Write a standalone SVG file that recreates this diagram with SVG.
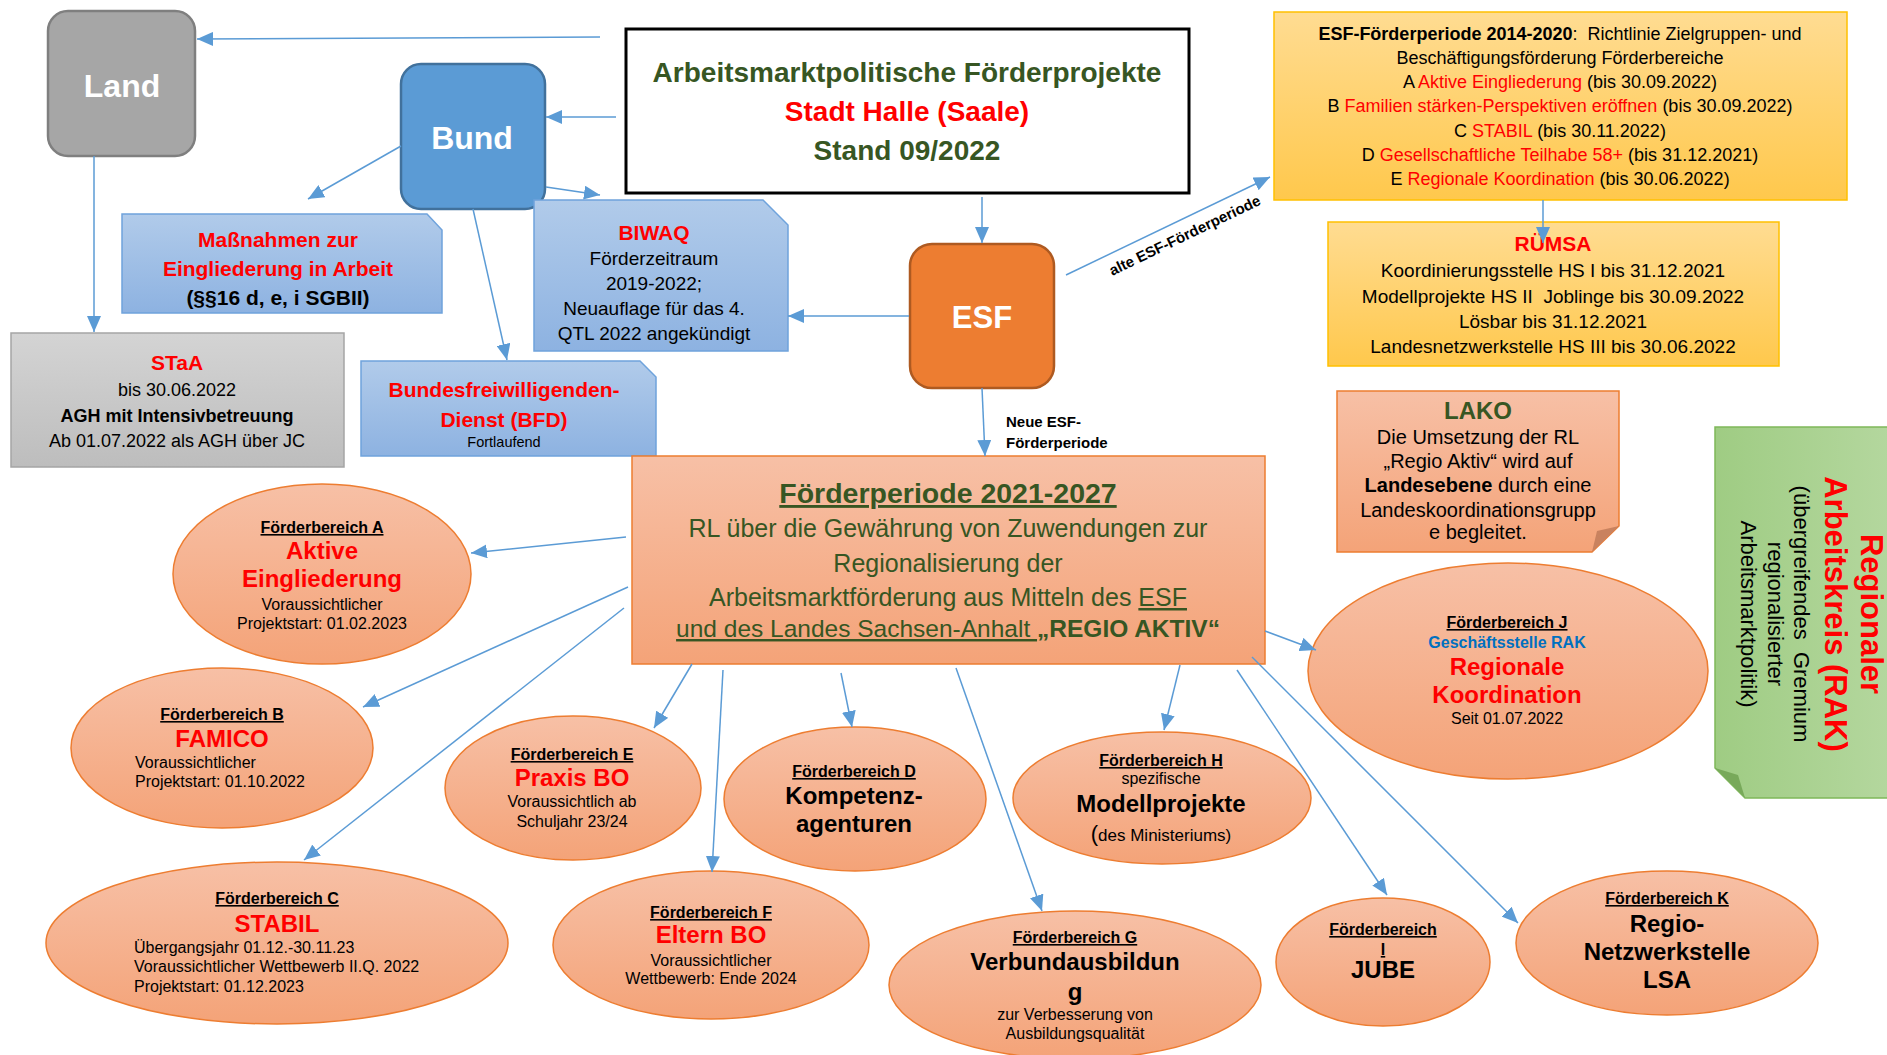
<svg xmlns="http://www.w3.org/2000/svg" width="1887" height="1055" viewBox="0 0 1887 1055">
<defs>
<style>
text{font-family:"Liberation Sans",Arial,sans-serif;fill:#000}
.c{text-anchor:middle}
.b{font-weight:bold}
.u{text-decoration:underline}
.red{fill:#ff0000}
.grn{fill:#375623}
.wh{fill:#ffffff}
.ell{fill:url(#gS);stroke:#ed7d31;stroke-width:1.5}
.blue{fill:url(#gB);stroke:#6fa3dc;stroke-width:1.5}
.f16{font-size:16px}
.f24{font-size:24px}
#conn path{fill:none;stroke:#5b9bd5;stroke-width:1.5;marker-end:url(#ah)}
</style>
<linearGradient id="gS" x1="0" y1="0" x2="0" y2="1"><stop offset="0" stop-color="#f7c0a6"/><stop offset="1" stop-color="#f4a378"/></linearGradient>
<linearGradient id="gB" x1="0" y1="0" x2="0" y2="1"><stop offset="0" stop-color="#b1cbea"/><stop offset="1" stop-color="#8db2e1"/></linearGradient>
<linearGradient id="gG" x1="0" y1="0" x2="0" y2="1"><stop offset="0" stop-color="#d4d4d4"/><stop offset="1" stop-color="#bdbdbd"/></linearGradient>
<linearGradient id="gY" x1="0" y1="0" x2="0" y2="1"><stop offset="0" stop-color="#ffdc92"/><stop offset="1" stop-color="#ffc84c"/></linearGradient>
<linearGradient id="gGr" x1="1" y1="0" x2="0" y2="0"><stop offset="0" stop-color="#b4d79e"/><stop offset="1" stop-color="#9fcc83"/></linearGradient>
<marker id="ah" markerUnits="userSpaceOnUse" markerWidth="16" markerHeight="14" refX="16" refY="7" orient="auto"><path d="M0,0 L16,7 L0,14 Z" fill="#5b9bd5"/></marker>
</defs>
<rect width="1887" height="1055" fill="#ffffff"/>

<g id="land">
<rect x="48" y="11" width="147" height="145" rx="20" fill="#a6a6a6" stroke="#7f7f7f" stroke-width="2.5"/>
<text x="122" y="97" class="c b wh" font-size="32">Land</text>
</g>
<g id="bund">
<rect x="401" y="64" width="144" height="145" rx="20" fill="#5b9bd5" stroke="#41719c" stroke-width="2.5"/>
<text x="472" y="149" class="c b wh" font-size="32">Bund</text>
</g>
<g id="title">
<rect x="626" y="29" width="563" height="164" fill="#ffffff" stroke="#000" stroke-width="3"/>
<text x="907" y="82" class="c b grn" font-size="28">Arbeitsmarktpolitische Förderprojekte</text>
<text x="907" y="121" class="c b red" font-size="28">Stadt Halle (Saale)</text>
<text x="907" y="160" class="c b grn" font-size="28">Stand 09/2022</text>
</g>
<g id="massnahmen">
<path class="blue" d="M122,214 H427 L442,230 V313 H122 Z"/>
<text x="278" y="247" class="c b red" font-size="21">Maßnahmen zur</text>
<text x="278" y="276" class="c b red" font-size="21">Eingliederung in Arbeit</text>
<text x="278" y="305" class="c b" font-size="21">(§§16 d, e, i SGBII)</text>
</g>
<g id="biwaq">
<path class="blue" d="M534,200 H763 L788,225 V351 H534 Z"/>
<text x="654" y="240" class="c b red" font-size="21">BIWAQ</text>
<text x="654" y="265" class="c" font-size="19">Förderzeitraum</text>
<text x="654" y="290" class="c" font-size="19">2019-2022;</text>
<text x="654" y="315" class="c" font-size="19">Neuauflage für das 4.</text>
<text x="654" y="340" class="c" font-size="19">QTL 2022 angekündigt</text>
</g>
<g id="staa">
<rect x="11" y="333" width="333" height="134" fill="url(#gG)" stroke="#a5a5a5" stroke-width="1.5"/>
<text x="177" y="370" class="c b red" font-size="21">STaA</text>
<text x="177" y="396" class="c" font-size="18">bis 30.06.2022</text>
<text x="177" y="422" class="c b" font-size="18">AGH mit Intensivbetreuung</text>
<text x="177" y="447" class="c" font-size="18">Ab 01.07.2022 als AGH über JC</text>
</g>
<g id="bfd">
<path class="blue" d="M361,361 H640 L656,377 V456 H361 Z"/>
<text x="504" y="397" class="c b red" font-size="21">Bundesfreiwilligenden-</text>
<text x="504" y="427" class="c b red" font-size="21">Dienst (BFD)</text>
<text x="504" y="447" class="c" font-size="14.5">Fortlaufend</text>
</g>
<g id="esf">
<rect x="910" y="244" width="144" height="144" rx="22" fill="#ed7d31" stroke="#ae5a21" stroke-width="2.5"/>
<text x="982" y="328" class="c b wh" font-size="31">ESF</text>
</g>
<g id="esf2014">
<rect x="1274" y="12" width="573" height="188" fill="url(#gY)" stroke="#ffc000" stroke-width="1.5"/>
<text x="1560" y="40" class="c" font-size="18" xml:space="preserve"><tspan class="b">ESF-Förderperiode 2014-2020</tspan>:  Richtlinie Zielgruppen- und</text>
<text x="1560" y="64" class="c" font-size="18">Beschäftigungsförderung Förderbereiche</text>
<text x="1560" y="88" class="c" font-size="18">A <tspan class="red">Aktive Eingliederung</tspan> (bis 30.09.2022)</text>
<text x="1560" y="112" class="c" font-size="18">B <tspan class="red">Familien stärken-Perspektiven eröffnen</tspan> (bis 30.09.2022)</text>
<text x="1560" y="137" class="c" font-size="18">C <tspan class="red">STABIL</tspan> (bis 30.11.2022)</text>
<text x="1560" y="161" class="c" font-size="18">D <tspan class="red">Gesellschaftliche Teilhabe 58+</tspan> (bis 31.12.2021)</text>
<text x="1560" y="185" class="c" font-size="18">E <tspan class="red">Regionale Koordination</tspan> (bis 30.06.2022)</text>
</g>
<g id="ruemsa">
<rect x="1328" y="222" width="451" height="144" fill="url(#gY)" stroke="#ffc000" stroke-width="1.5"/>
<text x="1553" y="251" class="c b red" font-size="21">RÜMSA</text>
<text x="1553" y="277" class="c" font-size="19">Koordinierungsstelle HS I bis 31.12.2021</text>
<text x="1553" y="303" class="c" font-size="19" xml:space="preserve">Modellprojekte HS II  Joblinge bis 30.09.2022</text>
<text x="1553" y="328" class="c" font-size="19">Lösbar bis 31.12.2021</text>
<text x="1553" y="353" class="c" font-size="19">Landesnetzwerkstelle HS III bis 30.06.2022</text>
</g>
<g id="lako">
<path d="M1337,391 H1619 V526 L1592,552 H1337 Z" fill="url(#gS)" stroke="#ed7d31" stroke-width="1.5"/>
<path d="M1592,552 L1597,531 L1619,526 Z" fill="#c9825f"/>
<text x="1478" y="419" class="c b grn" font-size="24">LAKO</text>
<text x="1478" y="444" class="c" font-size="20">Die Umsetzung der RL</text>
<text x="1478" y="468" class="c" font-size="20">„Regio Aktiv“ wird auf</text>
<text x="1478" y="492" class="c" font-size="20"><tspan class="b">Landesebene</tspan> durch eine</text>
<text x="1478" y="517" class="c" font-size="20">Landeskoordinationsgrupp</text>
<text x="1478" y="539" class="c" font-size="20">e begleitet.</text>
</g>
<g id="rak">
<path d="M1715,427 H1890 V798 H1745 L1715,768 Z" fill="url(#gGr)" stroke="#7fb85a" stroke-width="1.5"/>
<path d="M1715,768 L1738,775 L1745,798 Z" fill="#78a95a"/>
<text transform="translate(1861,614) rotate(90)" class="c b red" font-size="31">Regionaler</text>
<text transform="translate(1825,614) rotate(90)" class="c b red" font-size="31">Arbeitskreis (RAK)</text>
<text transform="translate(1794,614) rotate(90)" class="c" font-size="22" xml:space="preserve">(übergreifendes  Gremium</text>
<text transform="translate(1768,614) rotate(90)" class="c" font-size="22">regionalisierter</text>
<text transform="translate(1741,614) rotate(90)" class="c" font-size="22">Arbeitsmarktpolitik)</text>
</g>
<g id="regioaktiv">
<rect x="632" y="456" width="633" height="208" fill="url(#gS)" stroke="#ed7d31" stroke-width="1.5"/>
<text x="948" y="503" class="c b u grn" font-size="28.5">Förderperiode 2021-2027</text>
<text x="948" y="537" class="c grn" font-size="25">RL über die Gewährung von Zuwendungen zur</text>
<text x="948" y="572" class="c grn" font-size="25">Regionalisierung der</text>
<text x="948" y="606" class="c grn" font-size="25">Arbeitsmarktförderung aus Mitteln des <tspan class="u">ESF</tspan></text>
<text x="948" y="637" class="c grn" font-size="24.5" xml:space="preserve"><tspan class="u">und des Landes Sachsen-Anhalt </tspan><tspan class="b">„REGIO AKTIV“</tspan></text>
</g>
<g id="fbA">
<ellipse class="ell" cx="322" cy="574" rx="149" ry="90"/>
<text x="322" y="533" class="c b u f16">Förderbereich A</text>
<text x="322" y="559" class="c b red f24">Aktive</text>
<text x="322" y="587" class="c b red f24">Eingliederung</text>
<text x="322" y="610" class="c f16">Voraussichtlicher</text>
<text x="322" y="629" class="c f16">Projektstart: 01.02.2023</text>
</g>
<g id="fbB">
<ellipse class="ell" cx="222" cy="748" rx="151" ry="80"/>
<text x="222" y="720" class="c b u f16">Förderbereich B</text>
<text x="222" y="747" class="c b red f24">FAMICO</text>
<text x="135" y="768" class="f16">Voraussichtlicher</text>
<text x="135" y="787" class="f16">Projektstart: 01.10.2022</text>
</g>
<g id="fbC">
<ellipse class="ell" cx="277" cy="943" rx="231" ry="81"/>
<text x="277" y="904" class="c b u f16">Förderbereich C</text>
<text x="277" y="932" class="c b red f24">STABIL</text>
<text x="134" y="953" class="f16">Übergangsjahr 01.12.-30.11.23</text>
<text x="134" y="972" class="f16">Voraussichtlicher Wettbewerb II.Q. 2022</text>
<text x="134" y="992" class="f16">Projektstart: 01.12.2023</text>
</g>
<g id="fbE">
<ellipse class="ell" cx="573" cy="788" rx="128" ry="72"/>
<text x="572" y="760" class="c b u f16">Förderbereich E</text>
<text x="572" y="786" class="c b red f24">Praxis BO</text>
<text x="572" y="807" class="c f16">Voraussichtlich ab</text>
<text x="572" y="827" class="c f16">Schuljahr 23/24</text>
</g>
<g id="fbD">
<ellipse class="ell" cx="855" cy="799" rx="131" ry="72"/>
<text x="854" y="777" class="c b u f16">Förderbereich D</text>
<text x="854" y="804" class="c b f24">Kompetenz-</text>
<text x="854" y="832" class="c b f24">agenturen</text>
</g>
<g id="fbH">
<ellipse class="ell" cx="1162" cy="798" rx="149" ry="66"/>
<text x="1161" y="766" class="c b u f16">Förderbereich H</text>
<text x="1161" y="784" class="c f16">spezifische</text>
<text x="1161" y="812" class="c b f24">Modellprojekte</text>
<text x="1161" y="841" class="c" font-size="17"><tspan font-size="22">(</tspan>des Ministeriums)</text>
</g>
<g id="fbF">
<ellipse class="ell" cx="711" cy="945" rx="158" ry="74"/>
<text x="711" y="918" class="c b u f16">Förderbereich F</text>
<text x="711" y="943" class="c b red f24">Eltern BO</text>
<text x="711" y="966" class="c f16">Voraussichtlicher</text>
<text x="711" y="984" class="c f16">Wettbewerb: Ende 2024</text>
</g>
<g id="fbG">
<ellipse class="ell" cx="1075" cy="985" rx="186" ry="74"/>
<text x="1075" y="943" class="c b u f16">Förderbereich G</text>
<text x="1075" y="970" class="c b f24">Verbundausbildun</text>
<text x="1075" y="1000" class="c b f24">g</text>
<text x="1075" y="1020" class="c f16">zur Verbesserung von</text>
<text x="1075" y="1039" class="c f16">Ausbildungsqualität</text>
</g>
<g id="fbI">
<ellipse class="ell" cx="1383" cy="962" rx="107" ry="64"/>
<text x="1383" y="935" class="c b u f16">Förderbereich</text>
<text x="1383" y="955" class="c b u f16">I</text>
<text x="1383" y="978" class="c b f24">JUBE</text>
</g>
<g id="fbK">
<ellipse class="ell" cx="1667" cy="943" rx="151" ry="72"/>
<text x="1667" y="904" class="c b u f16">Förderbereich K</text>
<text x="1667" y="932" class="c b f24">Regio-</text>
<text x="1667" y="960" class="c b f24">Netzwerkstelle</text>
<text x="1667" y="988" class="c b f24">LSA</text>
</g>
<g id="fbJ">
<ellipse class="ell" cx="1508" cy="671" rx="200" ry="108"/>
<text x="1507" y="628" class="c b u f16">Förderbereich J</text>
<text x="1507" y="648" class="c b f16" fill="#0070c0" style="fill:#0070c0">Geschäftsstelle RAK</text>
<text x="1507" y="675" class="c b red f24">Regionale</text>
<text x="1507" y="703" class="c b red f24">Koordination</text>
<text x="1507" y="724" class="c f16">Seit 01.07.2022</text>
</g>

<g id="conn">
<path d="M600,37 L197,39"/>
<path d="M616,117 L546,117"/>
<path d="M401,146 L308,199"/>
<path d="M546,187 L600,195"/>
<path d="M473,209 L507,360"/>
<path d="M94,156 L94,332"/>
<path d="M982,197 L982,243"/>
<path d="M909,316 L788,316"/>
<path d="M1066,275 L1270,177"/>
<path d="M982,388 L985,456"/>
<path d="M626,537 L471,553"/>
<path d="M628,587 L363,707"/>
<path d="M624,608 L304,860"/>
<path d="M692,664 L654,728"/>
<path d="M723,670 L712,872"/>
<path d="M841,673 L852,727"/>
<path d="M956,668 L1042,911"/>
<path d="M1180,665 L1164,730"/>
<path d="M1237,670 L1387,895"/>
<path d="M1252,657 L1518,923"/>
<path d="M1265,631 L1316,650"/>
<path d="M1543,200 L1543,243"/>
<text transform="translate(1187,240) rotate(-25.7)" class="c b" font-size="15">alte ESF-Förderperiode</text>
<text x="1006" y="427" class="b" font-size="15">Neue ESF-</text>
<text x="1006" y="448" class="b" font-size="15">Förderperiode</text>
</g>
</svg>
